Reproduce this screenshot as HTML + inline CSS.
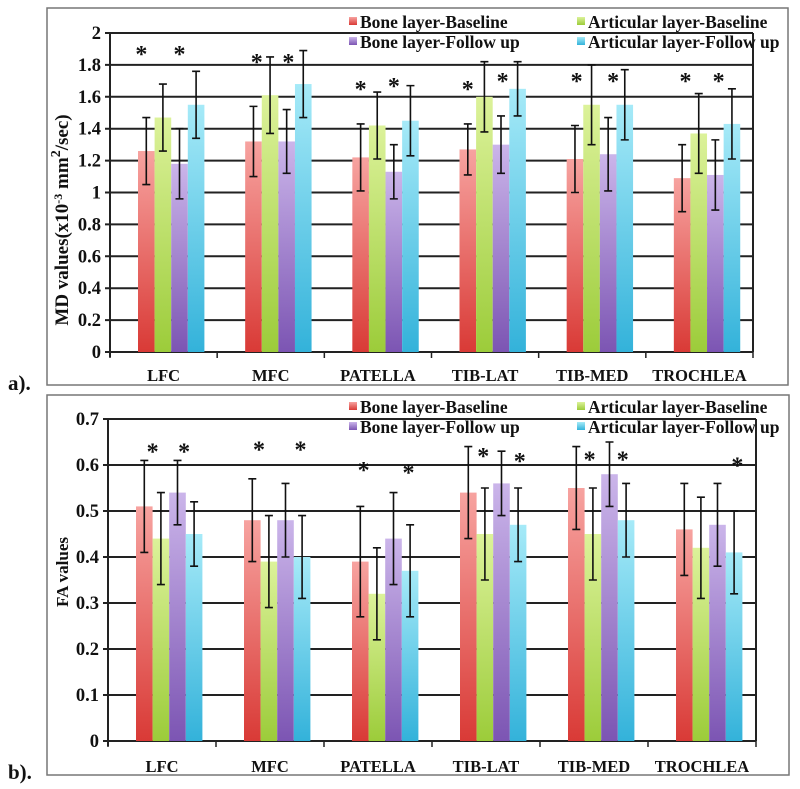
<!DOCTYPE html>
<html><head><meta charset="utf-8"><style>
html,body{margin:0;padding:0;background:#fff;width:800px;height:789px;overflow:hidden}
svg text{font-family:"Liberation Serif",serif;font-weight:bold;fill:#111}
</style></head><body>
<svg id="s" width="800" height="789" viewBox="0 0 800 789" xmlns="http://www.w3.org/2000/svg">
<defs>
<linearGradient id="g0" x1="0" y1="0" x2="0" y2="1"><stop offset="0" stop-color="#f7a3a0"/><stop offset="1" stop-color="#d93a36"/></linearGradient>
<linearGradient id="g1" x1="0" y1="0" x2="0" y2="1"><stop offset="0" stop-color="#dcf29a"/><stop offset="1" stop-color="#9ccc3a"/></linearGradient>
<linearGradient id="g2" x1="0" y1="0" x2="0" y2="1"><stop offset="0" stop-color="#cbb5ea"/><stop offset="1" stop-color="#7c55b3"/></linearGradient>
<linearGradient id="g3" x1="0" y1="0" x2="0" y2="1"><stop offset="0" stop-color="#a6eaf8"/><stop offset="1" stop-color="#33b2da"/></linearGradient>
</defs>
</svg>
<script>
const categories=["LFC","MFC","PATELLA","TIB-LAT","TIB-MED","TROCHLEA"];
const seriesNames=["Bone layer-Baseline","Articular layer-Baseline","Bone layer-Follow up","Articular layer-Follow up"];
// MD chart
const mdBoneBase=[1.26,1.32,1.22,1.27,1.21,1.09];
const mdArtBase=[1.47,1.61,1.42,1.60,1.55,1.37];
const mdBoneFU=[1.18,1.32,1.13,1.30,1.24,1.11];
const mdArtFU=[1.55,1.68,1.45,1.65,1.55,1.43];
const mdErrBoneBase=[0.21,0.22,0.21,0.16,0.21,0.21];
const mdErrArtBase=[0.21,0.24,0.21,0.22,0.25,0.25];
const mdErrBoneFU=[0.22,0.20,0.17,0.18,0.23,0.22];
const mdErrArtFU=[0.21,0.21,0.22,0.17,0.22,0.22];
const mdTicks=[0,0.2,0.4,0.6,0.8,1,1.2,1.4,1.6,1.8,2];
const mdTickLabels=["0","0.2","0.4","0.6","0.8","1","1.2","1.4","1.6","1.8","2"];
const mdStarCat=[0,0,1,1,2,2,3,3,4,4,5,5];
const mdStarBar=[0.2,2.5,0.7,2.6,0.5,2.5,0.5,2.6,0.6,2.8,0.7,2.7];
const mdStarVal=[1.90,1.90,1.85,1.85,1.68,1.70,1.68,1.73,1.73,1.73,1.73,1.73];
// FA chart
const faBoneBase=[0.51,0.48,0.39,0.54,0.55,0.46];
const faArtBase=[0.44,0.39,0.32,0.45,0.45,0.42];
const faBoneFU=[0.54,0.48,0.44,0.56,0.58,0.47];
const faArtFU=[0.45,0.40,0.37,0.47,0.48,0.41];
const faErrBoneBase=[0.10,0.09,0.12,0.10,0.09,0.10];
const faErrArtBase=[0.10,0.10,0.10,0.10,0.10,0.11];
const faErrBoneFU=[0.07,0.08,0.10,0.07,0.07,0.09];
const faErrArtFU=[0.07,0.09,0.10,0.08,0.08,0.09];
const faTicks=[0,0.1,0.2,0.3,0.4,0.5,0.6,0.7];
const faTickLabels=["0","0.1","0.2","0.3","0.4","0.5","0.6","0.7"];
const faStarCat=[0,0,1,1,2,2,3,3,4,4,5];
const faStarBar=[1.0,2.9,0.9,3.4,0.7,3.4,1.4,3.6,1.3,3.3,3.7];
const faStarVal=[0.64,0.64,0.645,0.645,0.60,0.595,0.63,0.62,0.623,0.623,0.61];

const NS="http://www.w3.org/2000/svg";
const svg=document.getElementById('s');
function mk(tag,attrs,parent,txt){const e=document.createElementNS(NS,tag);for(const k in attrs)e.setAttribute(k,attrs[k]);if(txt!==undefined)e.textContent=txt;(parent||svg).appendChild(e);return e;}

function chart(cfg){
  const g=mk('g',{});
  
  
  const fr=mk('rect',{x:cfg.frame[0],y:cfg.frame[1],width:cfg.frame[2],height:cfg.frame[3],fill:'none',stroke:'#777','stroke-width':1.5},g);
  
  
  const L=cfg.left,R=cfg.right,B=cfg.bottom,T=cfg.top,max=cfg.max;
  const y=v=>B-(v/max)*(B-T);
  const cw=(R-L)/categories.length;
  const x=(c,b)=>L+c*cw+28+b*16.6;
  cfg.ticks.forEach((t,i)=>{
    const ln=mk('line',{x1:L-5,x2:R,y1:y(t),y2:y(t),stroke:'#222','stroke-width':2},g);
    
    
    const tl=mk('text',{x:L-9,y:y(t)+6,'text-anchor':'end','font-size':18.5},g,cfg.tickLabels[i]);
    
    
  });
  const rv=mk('line',{x1:R,x2:R,y1:T,y2:B,stroke:'#222','stroke-width':2},g);
  
  
  const ya=mk('line',{x1:L,x2:L,y1:T,y2:B+5,stroke:'#222','stroke-width':2},g);
  
  
  for(let c=0;c<=categories.length;c++){
    const tk=mk('line',{x1:L+c*cw,x2:L+c*cw,y1:B,y2:B+6,stroke:'#222','stroke-width':1.5},g);
    
    
  }
  categories.forEach((cat,c)=>{
    cfg.series.forEach((arr,b)=>{
      const v=arr[c];
      const r=mk('rect',{x:x(c,b),y:y(v),width:16.6,height:B-y(v),fill:'url(#g'+b+')'},g);
      
      
    });
    cfg.series.forEach((arr,b)=>{
      const v=arr[c],e=cfg.errs[b][c],cx=x(c,b)+8.3;
      const eg=mk('path',{d:`M${cx},${y(v+e)}V${y(v-e)}M${cx-4},${y(v+e)}H${cx+4}M${cx-4},${y(v-e)}H${cx+4}`,stroke:'#111','stroke-width':1.6,fill:'none'},g);
      
      
    });
    const cl=mk('text',{x:L+c*cw+cw/2,y:cfg.catY,'text-anchor':'middle','font-size':16.5},g,cat);
    
    
  });
  cfg.starCat.forEach((c,i)=>{
    const st=mk('text',{x:x(c,cfg.starBar[i]),y:y(cfg.starVal[i])+13,'text-anchor':'middle','font-size':24},g,'*');
    
    
  });
  const yt=mk('text',{transform:`translate(${cfg.ytx},${cfg.yty}) rotate(-90)`,'text-anchor':'middle','font-size':cfg.md?19:17},g);
  
  
  if(cfg.md){
    mk('tspan',{},yt,'MD values(x10');
    mk('tspan',{dy:-6,'font-size':12},yt,'-3');
    mk('tspan',{dy:6},yt,' mm');
    mk('tspan',{dy:-8,'font-size':14},yt,'2');
    mk('tspan',{dy:8},yt,'/sec)');
  } else yt.textContent='FA values';
  const lx=[349,577,349,577],ly=[cfg.legY,cfg.legY,cfg.legY+20,cfg.legY+20];
  [0,1,2,3].forEach(s=>{
    const lg=mk('g',{},g);
    
    
    mk('rect',{x:lx[s],y:ly[s]-11,width:8,height:8,fill:'url(#g'+s+')'},lg);
    mk('text',{x:lx[s]+11,y:ly[s],'font-size':17.5},lg,seriesNames[s]);
  });
  const pl=mk('text',{x:8,y:cfg.panelY,'font-size':21},g,cfg.panel);
  
  
}
chart({name:'md-chart',md:true,frame:[47,8,741,377],left:110,right:753,top:33,bottom:352,max:2,ticks:mdTicks,tickLabels:mdTickLabels,
  series:[mdBoneBase,mdArtBase,mdBoneFU,mdArtFU],errs:[mdErrBoneBase,mdErrArtBase,mdErrBoneFU,mdErrArtFU],
  starCat:mdStarCat,starBar:mdStarBar,starVal:mdStarVal,catY:381,ytx:68,yty:220,legY:28,panel:'a).',panelY:390});
chart({name:'fa-chart',md:false,frame:[47,395,742,380],left:108,right:756,top:419,bottom:741,max:0.7,ticks:faTicks,tickLabels:faTickLabels,
  series:[faBoneBase,faArtBase,faBoneFU,faArtFU],errs:[faErrBoneBase,faErrArtBase,faErrBoneFU,faErrArtFU],
  starCat:faStarCat,starBar:faStarBar,starVal:faStarVal,catY:772,ytx:68,yty:572,legY:413,panel:'b).',panelY:779});
</script>
</body></html>
